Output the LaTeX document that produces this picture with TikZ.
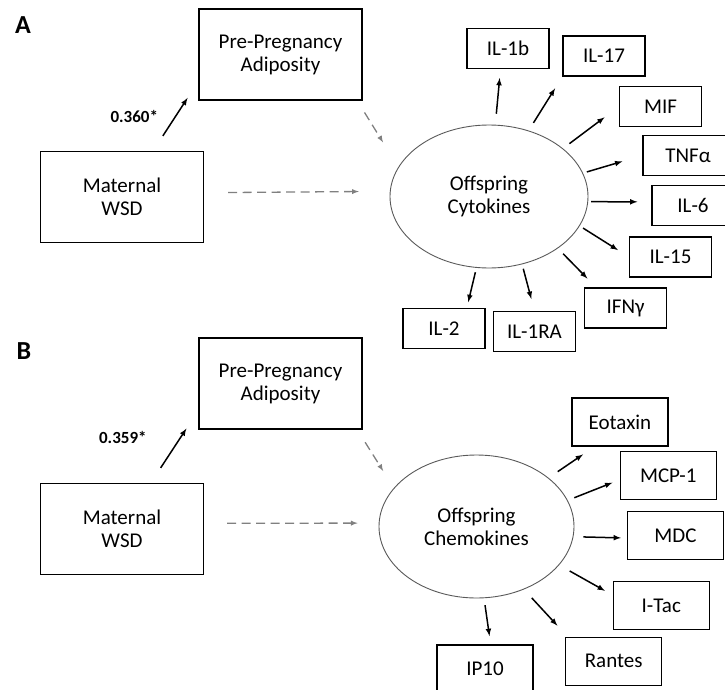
\documentclass[tikz,border=0pt]{standalone}
\usepackage{fontspec}
\setmainfont{Carlito}
\usetikzlibrary{arrows,shapes,positioning,calc}
\usetikzlibrary{shapes.geometric}

\begin{document}
\begin{tikzpicture}[x=1pt,y=-1pt,
    every node/.style={font=\fontsize{21}{23}\selectfont},
    bigbox/.style={draw,line width=1.1pt,minimum width=163pt,minimum height=91pt,inner sep=0pt,align=center},
    molA/.style={draw,line width=1.1pt,minimum width=82pt,minimum height=40pt,inner sep=0pt},
    molB/.style={draw,line width=1.1pt,minimum width=96pt,minimum height=48pt,inner sep=0pt},
    latent/.style={ellipse,draw=gray!70!black,line width=0.9pt,minimum width=198pt,minimum height=143pt,inner sep=0pt,align=center},
    sig/.style={-latex,line width=1.5pt},
    nonsig/.style={-latex,draw=gray,line width=1.3pt,dash pattern=on 9pt off 5.5pt},
    panel/.style={font=\fontsize{26}{28}\selectfont\bfseries},
    coef/.style={font=\fontsize{17}{19}\selectfont\bfseries,inner sep=0pt}]
    \useasboundingbox (0,0) rectangle (725,690);
    \clip (0,0) rectangle (725,690);
    % A: cytokines
    \node[panel](labA) at (23,25){A};
    \node[bigbox](ppaA) at (280.5,54.5){Pre-Pregnancy\\Adiposity};
    \node[bigbox](wsdA) at (122,197){Maternal\\WSD};
    \node[latent](cytA) at (489,196.5){Offspring\\Cytokines};
    \node[molA](il1b) at (508,48.5){IL-1b};
    \node[molA](il17) at (604,56){IL-17};
    \node[molA](mif) at (660.5,106.5){MIF};
    \node[molA,minimum width=90pt](tnf) at (688,155.5){TNFα};
    \node[molA](il6) at (693,205.5){IL-6};
    \node[molA](il15) at (670.5,257){IL-15};
    \node[molA](ifng) at (625.5,308){IFNγ};
    \node[molA](il1ra) at (534.5,331.5){IL-1RA};
    \node[molA](il2) at (444,328.5){IL-2};
    \draw[sig,shorten <=18pt,shorten >=20pt](wsdA.56)--(ppaA.198) node[coef,pos=0.5,left=17pt]{0.360*};
    \draw[nonsig,shorten <=24pt,shorten >=31pt](wsdA.3)--(cytA.177);
    \draw[nonsig,shorten <=14pt,shorten >=29pt](ppaA.-31)--(cytA.162);
    \draw[sig,shorten <=11pt,shorten >=9pt](cytA.85)--(il1b.250);
    \draw[sig,shorten <=9pt,shorten >=14pt](cytA.59)--(il17.south west);
    \draw[sig,shorten <=8pt,shorten >=18pt](cytA.33)--(mif.west);
    \draw[sig,shorten <=4pt,shorten >=21pt](cytA.14)--(tnf.west);
    \draw[sig,shorten <=3pt,shorten >=14pt](cytA.-3)--(il6.175);
    \draw[sig,shorten <=4pt,shorten >=13pt](cytA.-18.5)--(il15.west);
    \draw[sig,shorten <=7.5pt,shorten >=12.5pt](cytA.-37.4)--(ifng.145);
    \draw[sig,shorten <=4.5pt,shorten >=12.5pt](cytA.-64)--(il1ra.north);
    \draw[sig,shorten <=4.5pt,shorten >=6pt](cytA.260)--(il2.42);
    % B: chemokines
    \node[panel](labB) at (24,351.5){B};
    \node[bigbox](ppaB) at (280.5,383.5){Pre-Pregnancy\\Adiposity};
    \node[bigbox](wsdB) at (122,529){Maternal\\WSD};
    \node[latent,minimum width=195pt](cytB) at (476.5,526.5){Offspring\\Chemokines};
    \node[molB](eot) at (620,422){Eotaxin};
    \node[molB](mcp) at (668.3,475.5){MCP-1};
    \node[molB](mdc) at (675.5,535.5){MDC};
    \node[molB](itac) at (661.3,605.5){I-Tac};
    \node[molB](rantes) at (613.7,661.2){Rantes};
    \node[molB](ip10) at (485,669){IP10};
    \draw[sig,shorten <=18pt,shorten >=22pt](wsdB.58)--(ppaB.198.6) node[coef,pos=0.62,left=33pt]{0.359*};
    \draw[nonsig,shorten <=23pt,shorten >=21pt](wsdB.4)--(cytB.178);
    \draw[nonsig,shorten <=15pt,shorten >=20pt](ppaB.-31.5)--(cytB.155);
    \draw[sig,shorten <=11pt,shorten >=14pt](cytB.34)--(eot.224);
    \draw[sig,shorten <=7pt,shorten >=8pt](cytB.16)--(mcp.185);
    \draw[sig,shorten <=10pt,shorten >=6pt](cytB.-6)--(mdc.183);
    \draw[sig,shorten <=12pt,shorten >=9pt](cytB.-25.5)--(itac.168);
    \draw[sig,shorten <=11.5pt,shorten >=15pt](cytB.-53)--(rantes.152);
    \draw[sig,shorten <=7pt,shorten >=8.5pt](cytB.-84.5)--(ip10.77);
\end{tikzpicture}
\end{document}
